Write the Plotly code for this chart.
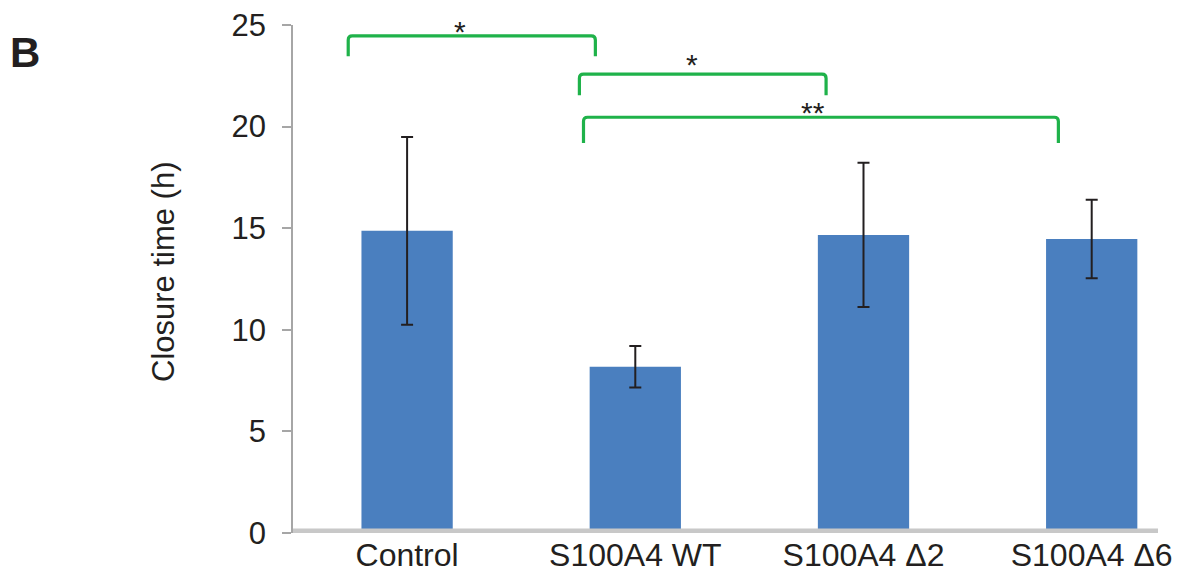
import plotly.graph_objects as go

categories = ["Control", "S100A4 WT", "S100A4 \u03942", "S100A4 \u03946"]
closure_time = [14.87, 8.18, 14.67, 14.47]
error_sd = [4.62, 1.02, 3.55, 1.93]
y_ticks = [0, 5, 10, 15, 20, 25]

# significance brackets
bracket_left = [-0.258, 0.755, 0.773]
bracket_right = [0.825, 1.836, 2.854]
bracket_top = [24.46, 22.58, 20.46]
bracket_bottom = [23.46, 21.54, 19.19]
sig_labels = ["*", "*", "**"]
sig_x = [0.231, 1.247, 1.78]
sig_y = [24.7, 23.05, 20.7]

BAR = "#4a7fbf"
GREEN = "#1fb24a"
AX = "#a6a6a6"
TXT = "#231f20"
FONT = "Liberation Sans, Arial, sans-serif"

W, H = 1188, 579
L, R, T, B = 293, 30, 25, 46
pw = W - L - R
ph = H - T - B

def px_x(p):
    return (p - L) / pw

def px_y(p):
    return (H - B - p) / ph

fig = go.Figure()
fig.add_trace(go.Bar(
    x=list(range(len(categories))), y=closure_time, width=0.4,
    marker=dict(color=BAR, line=dict(width=0)),
    error_y=dict(type="data", array=error_sd, visible=True,
                 color=TXT, thickness=2, width=6),
    cliponaxis=False,
))

shapes = []
rx, ry = 0.018, 0.2
for x0, x1, yt, yb in zip(bracket_left, bracket_right, bracket_top, bracket_bottom):
    path = (f"M {x0},{yb} L {x0},{yt-ry} Q {x0},{yt} {x0+rx},{yt} "
            f"L {x1-rx},{yt} Q {x1},{yt} {x1},{yt-ry} L {x1},{yb}")
    shapes.append(dict(type="path", path=path, xref="x", yref="y",
                       line=dict(color=GREEN, width=3.2), layer="above"))
# thick gray category axis line
shapes.append(dict(type="rect", xref="paper", yref="y", x0=0, x1=1,
                   y0=-0.02, y1=0.22, fillcolor="#c8c8c8",
                   line=dict(width=0), layer="above"))

annotations = []
for lab, sx, sy in zip(sig_labels, sig_x, sig_y):
    annotations.append(dict(x=sx, y=sy, xref="x", yref="y", text=lab,
                            showarrow=False, yanchor="middle",
                            font=dict(family=FONT, size=30, color=TXT)))
annotations.append(dict(x=px_x(24.7), y=px_y(52.5), xref="paper", yref="paper",
                        text="<b>B</b>", showarrow=False,
                        xanchor="center", yanchor="middle",
                        font=dict(family=FONT, size=42, color=TXT)))
annotations.append(dict(x=px_x(163), y=px_y(272), xref="paper", yref="paper",
                        text="Closure time (h)", showarrow=False, textangle=-90,
                        xanchor="center", yanchor="middle",
                        font=dict(family=FONT, size=31, color=TXT)))

fig.update_layout(
    width=W, height=H,
    margin=dict(l=L, r=R, t=T, b=B, pad=0, autoexpand=False),
    paper_bgcolor="white", plot_bgcolor="white",
    showlegend=False,
    shapes=shapes, annotations=annotations,
    font=dict(family=FONT, color=TXT),
    xaxis=dict(range=[-0.5, -0.5 + pw / 228.2], tickvals=list(range(len(categories))),
               ticktext=categories, showline=False, showgrid=False, zeroline=False,
               ticks="", automargin=False,
               tickfont=dict(family=FONT, size=32, color=TXT)),
    yaxis=dict(range=[0, 25], tickvals=y_ticks, showgrid=False, zeroline=False,
               showline=True, linecolor=AX, linewidth=1.5, automargin=False,
               ticks="outside", ticklen=9, tickcolor=AX, tickwidth=1.5,
               ticklabelstandoff=10,
               tickfont=dict(family=FONT, size=31, color=TXT)),
)

fig.write_html("out.html", config={"displayModeBar": False},
               post_script="document.body.style.margin='0';document.body.style.padding='0';")
